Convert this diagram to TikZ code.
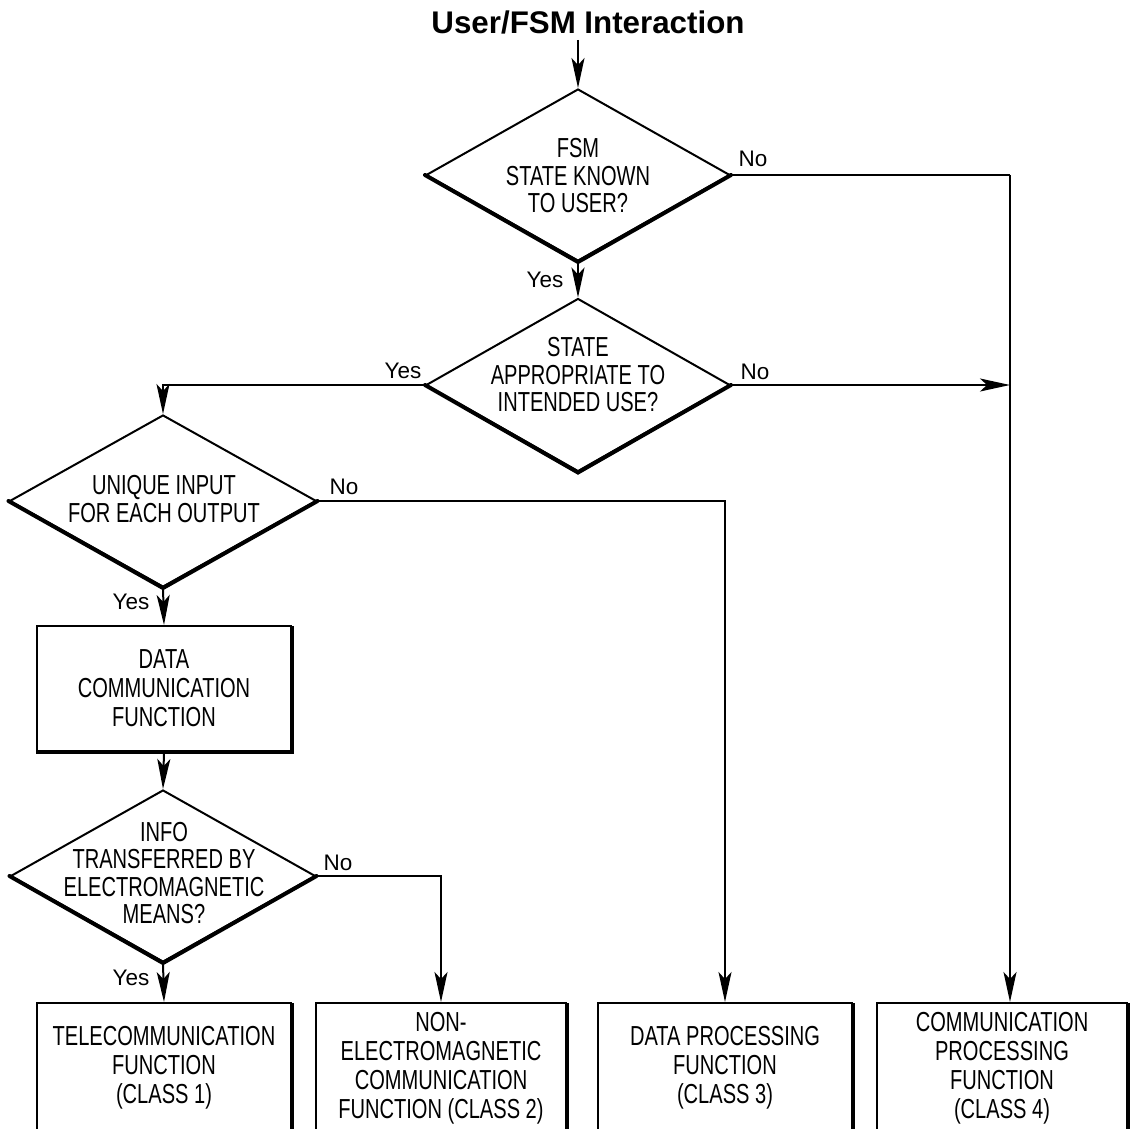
\documentclass[tikz,border=0pt]{standalone}
\usepackage{fontspec}
\setmainfont{Liberation Sans}
\newfontfamily\cond{Liberation Sans}[FakeStretch=0.73]
\usetikzlibrary{shapes.geometric,arrows.meta}
\begin{document}
\begin{tikzpicture}[x=1pt,y=-1pt,
  shapeline/.style={draw,line width=2pt},
  dia/.style={shape=diamond,shapeline,inner sep=0pt,minimum width=304pt,minimum height=172pt},
  boxn/.style={rectangle,shapeline,inner sep=0pt,align=center,font=\cond\fontsize{27.5}{29}\selectfont},
  txt/.style={align=center,inner sep=0pt,font=\cond\fontsize{27.5}{27.5}\selectfont},
  lbl/.style={inner sep=0pt,font=\fontsize{22.5}{22.5}\selectfont},
  conn/.style={line width=2pt},
  arr/.style={conn,-{Stealth[length=30pt,width=13pt,inset=7pt]}},
  heavy/.style={line width=4pt,line cap=round},
  heavyb/.style={line width=4pt,line cap=butt}]
\useasboundingbox (0,0) rectangle (1130,1129);
\clip (0,0) rectangle (1130,1129);
\node[inner sep=0pt,font=\bfseries\fontsize{31.3}{31.3}\selectfont] (t) at (588,22) {User/FSM Interaction};

\node[dia] (d1) at (578,175) {};
\node[txt] (d1t) at (578,176) {FSM\\STATE KNOWN\\TO USER?};
\node[dia,minimum height=173pt] (d2) at (578,385) {};
\node[txt] (d2t) at (578,375) {STATE\\APPROPRIATE TO\\INTENDED USE?};
\node[dia,minimum width=307pt] (d3) at (163,501) {};
\node[txt] (d3t) at (164,499) {UNIQUE INPUT\\FOR EACH OUTPUT};
\node[boxn,minimum width=254pt,minimum height=125pt] (dcf) at (164,688.5) {DATA\\COMMUNICATION\\FUNCTION};
\node[dia,minimum width=305pt] (d4) at (163,876) {};
\node[txt] (d4t) at (164,873) {INFO\\TRANSFERRED BY\\ELECTROMAGNETIC\\MEANS?};

\node[boxn,minimum width=254pt,minimum height=130pt] (b1) at (164,1068) {TELECOMMUNICATION\\FUNCTION\\(CLASS 1)};
\node[boxn,minimum width=250pt,minimum height=130pt] (b2) at (441,1068) {NON-\\ELECTROMAGNETIC\\COMMUNICATION\\FUNCTION (CLASS 2)};
\node[boxn,minimum width=254pt,minimum height=130pt] (b3) at (725,1068) {DATA PROCESSING\\FUNCTION\\(CLASS 3)};
\node[boxn,minimum width=250pt,minimum height=130pt] (b4) at (1002,1068) {COMMUNICATION\\PROCESSING\\FUNCTION\\(CLASS 4)};

% heavier lower edges
\foreach \d in {d1,d2,d3,d4}{\draw[heavy] (\d.west) -- (\d.south) -- (\d.east);}
\draw[heavyb] ([yshift=-1pt]dcf.north east) -- (dcf.south east) -- (dcf.south west);
\foreach \b in {b1,b2,b3,b4}{\draw[heavyb] ([yshift=-1pt]\b.north east) -- (\b.south east);}

\coordinate (c4) at (1010,175);

\draw[arr] (d1.north |- 0,40) -- (d1.north);
\draw[arr] (d1.south) -- (d2.north);
\draw[conn] (d1.east) -- (c4);
\draw[arr] (c4) -- (c4 |- b4.north);
\draw[arr] (d2.east) -- (c4 |- d2.east);
\draw[arr] (d2.west) -| (d3.north);
\draw[arr] (d3.east) -| (b3.north);
\draw[arr] (d3.south) -- (dcf.north);
\draw[arr] (dcf.south) -- (d4.north);
\draw[arr] (d4.south) -- (b1.north);
\draw[arr] (d4.east) -| (b2.north);

\node[lbl] (l1) at (753,159) {No};
\node[lbl] (l2) at (545,280) {Yes};
\node[lbl] (l3) at (403,371) {Yes};
\node[lbl] (l4) at (755,372) {No};
\node[lbl] (l5) at (344,487) {No};
\node[lbl] (l6) at (131,602) {Yes};
\node[lbl] (l7) at (338,863) {No};
\node[lbl] (l8) at (131,978) {Yes};
\end{tikzpicture}
\end{document}
